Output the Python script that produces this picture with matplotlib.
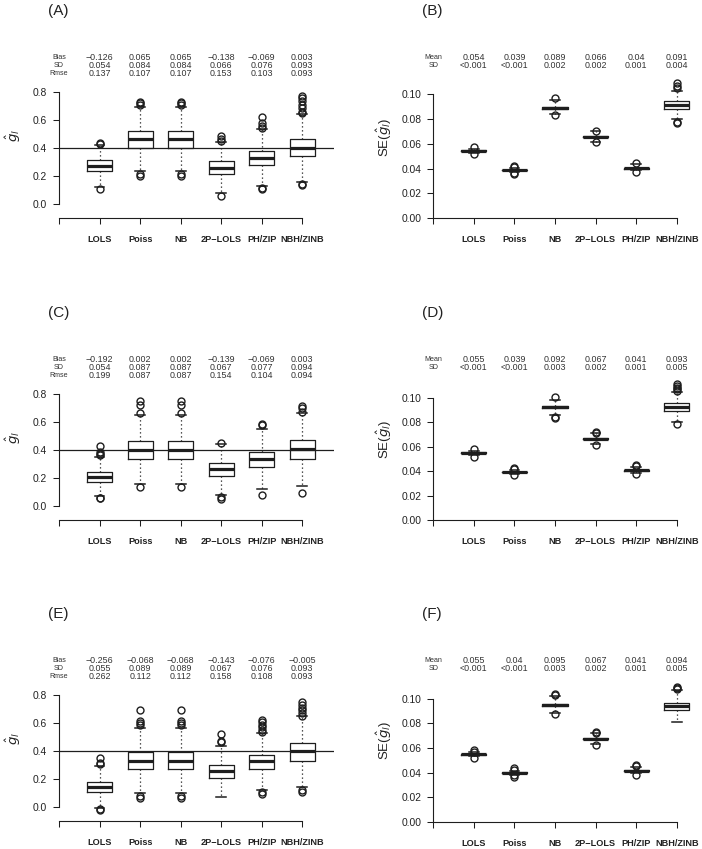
import matplotlib
matplotlib.use("Agg")
import matplotlib.pyplot as plt
from matplotlib.transforms import blended_transform_factory

plt.rcParams["font.family"] = ["Liberation Sans", "DejaVu Sans"]
plt.rcParams["mathtext.fontset"] = "dejavusans"

W, H = 702, 849
LC = "#1e1e1e"

methods = ["LOLS", "Poiss", "NB", "2P\u2212LOLS", "PH/ZIP", "NBH/ZINB"]
M = "\u2212"

# ---- panel A : estimates, scenario 1
lo_A = [0.124, 0.238, 0.238, 0.081, 0.126, 0.157]
q1_A = [0.236, 0.402, 0.402, 0.212, 0.276, 0.340]
med_A = [0.271, 0.464, 0.464, 0.260, 0.329, 0.402]
q3_A = [0.312, 0.521, 0.521, 0.305, 0.379, 0.462]
hi_A = [0.419, 0.695, 0.695, 0.443, 0.533, 0.643]
out_A = [[0.433, 0.426, 0.107],
         [0.731, 0.719, 0.707, 0.217, 0.197],
         [0.731, 0.719, 0.707, 0.217, 0.197],
         [0.488, 0.467, 0.452, 0.060],
         [0.624, 0.581, 0.560, 0.540, 0.112, 0.107],
         [0.771, 0.755, 0.733, 0.707, 0.683, 0.657, 0.648, 0.143, 0.133]]
bias_A = [M + "0.126", "0.065", "0.065", M + "0.138", M + "0.069", "0.003"]
sd_A = ["0.054", "0.084", "0.084", "0.066", "0.076", "0.093"]
rmse_A = ["0.137", "0.107", "0.107", "0.153", "0.103", "0.093"]

# ---- panel C
lo_C = [0.069, 0.158, 0.158, 0.081, 0.119, 0.146]
q1_C = [0.172, 0.339, 0.339, 0.215, 0.277, 0.339]
med_C = [0.210, 0.401, 0.401, 0.265, 0.334, 0.406]
q3_C = [0.246, 0.463, 0.463, 0.308, 0.387, 0.468]
hi_C = [0.348, 0.649, 0.649, 0.446, 0.549, 0.663]
out_C = [[0.430, 0.387, 0.375, 0.365, 0.060, 0.055],
         [0.752, 0.723, 0.663, 0.134],
         [0.752, 0.723, 0.663, 0.134],
         [0.453, 0.064, 0.050],
         [0.585, 0.578, 0.081],
         [0.711, 0.697, 0.668, 0.093]]
bias_C = [M + "0.192", "0.002", "0.002", M + "0.139", M + "0.069", "0.003"]
sd_C = ["0.054", "0.087", "0.087", "0.067", "0.077", "0.094"]
rmse_C = ["0.199", "0.087", "0.087", "0.154", "0.104", "0.094"]

# ---- panel E
lo_E = [-0.005, 0.098, 0.098, 0.072, 0.124, 0.141]
q1_E = [0.105, 0.274, 0.274, 0.210, 0.272, 0.332]
med_E = [0.146, 0.329, 0.329, 0.255, 0.327, 0.399]
q3_E = [0.181, 0.391, 0.391, 0.303, 0.375, 0.456]
hi_E = [0.291, 0.566, 0.566, 0.439, 0.527, 0.647]
out_E = [[0.353, 0.315, 0.305, -0.014, -0.020],
         [0.690, 0.613, 0.599, 0.587, 0.081, 0.066],
         [0.690, 0.613, 0.599, 0.587, 0.081, 0.066],
         [0.523, 0.475, 0.461],
         [0.623, 0.609, 0.589, 0.570, 0.551, 0.537, 0.105, 0.091],
         [0.747, 0.728, 0.709, 0.690, 0.671, 0.652, 0.122, 0.110]]
bias_E = [M + "0.256", M + "0.068", M + "0.068", M + "0.143", M + "0.076", M + "0.005"]
sd_E = ["0.055", "0.089", "0.089", "0.067", "0.076", "0.093"]
rmse_E = ["0.262", "0.112", "0.112", "0.158", "0.108", "0.093"]

# ---- panel B : standard errors
lo_B = [0.0528, 0.0370, 0.0836, 0.0617, 0.0386, 0.0796]
q1_B = [0.0540, 0.0385, 0.0882, 0.0651, 0.0399, 0.0882]
med_B = [0.0544, 0.0389, 0.0890, 0.0657, 0.0403, 0.0912]
q3_B = [0.0548, 0.0392, 0.0898, 0.0663, 0.0407, 0.0941]
hi_B = [0.0560, 0.0405, 0.0952, 0.0700, 0.0434, 0.1027]
out_B = [[0.0574, 0.0518],
         [0.0418, 0.0410, 0.0365, 0.0360],
         [0.0968, 0.0828],
         [0.0705, 0.0611],
         [0.0442, 0.0370],
         [0.1086, 0.1064, 0.1046, 0.0777, 0.0764]]
mean_B = ["0.054", "0.039", "0.089", "0.066", "0.04", "0.091"]
sdse_B = ["<0.001", "<0.001", "0.002", "0.002", "0.001", "0.004"]

# ---- panel D
lo_D = [0.0530, 0.0375, 0.0856, 0.0624, 0.0387, 0.0798]
q1_D = [0.0544, 0.0389, 0.0914, 0.0660, 0.0402, 0.0891]
med_D = [0.0548, 0.0392, 0.0924, 0.0665, 0.0406, 0.0921]
q3_D = [0.0552, 0.0396, 0.0934, 0.0670, 0.0410, 0.0954]
hi_D = [0.0562, 0.0410, 0.0984, 0.0708, 0.0436, 0.1044]
out_D = [[0.0578, 0.0515],
         [0.0425, 0.0418, 0.0368],
         [0.1005, 0.0845, 0.0838],
         [0.0722, 0.0715, 0.0610],
         [0.0452, 0.0443, 0.0373],
         [0.1109, 0.1095, 0.1082, 0.1068, 0.1054, 0.0787]]
mean_D = ["0.055", "0.039", "0.092", "0.067", "0.041", "0.093"]
sdse_D = ["<0.001", "<0.001", "0.003", "0.002", "0.001", "0.005"]

# ---- panel F
lo_F = [0.0532, 0.0385, 0.0886, 0.0635, 0.0397, 0.0808]
q1_F = [0.0547, 0.0396, 0.0941, 0.0671, 0.0410, 0.0905]
med_F = [0.0551, 0.0400, 0.0951, 0.0676, 0.0414, 0.0938]
q3_F = [0.0555, 0.0403, 0.0961, 0.0681, 0.0418, 0.0968]
hi_F = [0.0565, 0.0414, 0.1022, 0.0719, 0.0446, 0.1068]
out_F = [[0.0581, 0.0570, 0.0519],
         [0.0435, 0.0420, 0.0378, 0.0368],
         [0.1040, 0.1030, 0.0873],
         [0.0730, 0.0723, 0.0627],
         [0.0460, 0.0452, 0.0378],
         [0.1095, 0.1086, 0.1078]]
mean_F = ["0.055", "0.04", "0.095", "0.067", "0.041", "0.094"]
sdse_F = ["<0.001", "<0.001", "0.003", "0.002", "0.001", "0.005"]


def fx(px):
    return px / W


def fy(py):
    return 1 - py / H


def make_axes(fig, x0, unit, xmax, yzero, scale, ylim):
    bottom = yzero - ylim[0] * scale  # pixel row of ylim[0]
    width = xmax * unit
    height = (ylim[1] - ylim[0]) * scale
    ax = fig.add_axes([fx(x0), fy(bottom), width / W, height / H])
    ax.set_xlim(0, xmax)
    ax.set_ylim(*ylim)
    return ax


def draw_box(ax, lo, q1, med, q3, hi, out):
    stats = []
    for i in range(len(methods)):
        stats.append(dict(whislo=lo[i], q1=q1[i], med=med[i], q3=q3[i],
                          whishi=hi[i], fliers=out[i]))
    ax.bxp(stats, positions=range(1, 7), widths=0.62, capwidths=0.24,
           manage_ticks=False,
           boxprops=dict(color=LC, lw=0.9),
           medianprops=dict(color=LC, lw=2.3, solid_capstyle="butt"),
           whiskerprops=dict(color=LC, lw=0.9, linestyle=(0, (1, 2.2))),
           capprops=dict(color=LC, lw=1.1),
           flierprops=dict(marker="o", markerfacecolor="none",
                           markeredgecolor=LC, markersize=5,
                           markeredgewidth=1.0))


def style_axes(ax, yticks, ytl):
    for s in ["top", "right"]:
        ax.spines[s].set_visible(False)
    ax.spines["left"].set_bounds(yticks[0], yticks[-1])
    ax.spines["bottom"].set_bounds(0, 6)
    for s in ["left", "bottom"]:
        ax.spines[s].set_linewidth(0.8)
        ax.spines[s].set_color(LC)
    ax.set_yticks(yticks)
    ax.set_yticklabels(ytl, fontsize=7.4, color="#222222")
    ax.set_xticks(range(0, 7))
    ax.set_xticklabels([""] + methods, fontsize=6.6, fontweight="bold",
                       color="#222222")
    ax.tick_params(axis="y", length=4.3, width=0.75, pad=4.3, color=LC)
    ax.tick_params(axis="x", length=4.3, width=0.75, pad=8, color=LC)
    ax.patch.set_alpha(0)


def stat_rows(fig, ax, labels, rows, ys):
    tr = blended_transform_factory(ax.transData, fig.transFigure)
    for lab, vals, y in zip(labels, rows, ys):
        ax.text(0, fy(y), lab, transform=tr, ha="center", va="center",
                fontsize=5.1, color="#333333")
        for i, v in enumerate(vals):
            ax.text(i + 1, fy(y), v, transform=tr, ha="center", va="center",
                    fontsize=6.4, color="#333333")


fig = plt.figure(figsize=(W / 100, H / 100), dpi=100)

left_panels = [
    ("(A)", 0, lo_A, q1_A, med_A, q3_A, hi_A, out_A, bias_A, sd_A, rmse_A),
    ("(C)", 302, lo_C, q1_C, med_C, q3_C, hi_C, out_C, bias_C, sd_C, rmse_C),
    ("(E)", 603, lo_E, q1_E, med_E, q3_E, hi_E, out_E, bias_E, sd_E, rmse_E),
]
for letter, off, lo, q1, med, q3, hi, out, bias, sd, rmse in left_panels:
    ax = make_axes(fig, 59, 40.55, 6.77, 204 + off, 140, (-0.1, 0.85))
    ax.axhline(0.4, color=LC, lw=0.9)
    draw_box(ax, lo, q1, med, q3, hi, out)
    style_axes(ax, [0.0, 0.2, 0.4, 0.6, 0.8],
               ["0.0", "0.2", "0.4", "0.6", "0.8"])
    ax.set_ylabel(r"$\hat{g}_l$", fontsize=9.5, va="center", color="#222222")
    ax.yaxis.set_label_coords(fx(13), fy(135 + off), transform=fig.transFigure)
    stat_rows(fig, ax, ["Bias", "SD", "Rmse"], [bias, sd, rmse],
              [57.7 + off, 65.7 + off, 73.7 + off])
    fig.text(fx(48), fy(11 + off), letter, fontsize=11, ha="left",
             va="center", color="#222222")

right_panels = [
    ("(B)", 0, 218.3, 1243, lo_B, q1_B, med_B, q3_B, hi_B, out_B, mean_B, sdse_B),
    ("(D)", 302, 520, 1223, lo_D, q1_D, med_D, q3_D, hi_D, out_D, mean_D, sdse_D),
    ("(F)", 603, 822, 1233, lo_F, q1_F, med_F, q3_F, hi_F, out_F, mean_F, sdse_F),
]
for letter, off, yz, sc, lo, q1, med, q3, hi, out, mean, sdse in right_panels:
    ax = make_axes(fig, 433.3, 40.57, 6.6, yz, sc, (0, 0.115))
    draw_box(ax, lo, q1, med, q3, hi, out)
    style_axes(ax, [0.0, 0.02, 0.04, 0.06, 0.08, 0.10],
               ["0.00", "0.02", "0.04", "0.06", "0.08", "0.10"])
    ax.set_ylabel(r"SE($\hat{g}_l$)", fontsize=9.5, va="center",
                  color="#222222")
    ax.yaxis.set_label_coords(fx(384), fy(137 + off), transform=fig.transFigure)
    stat_rows(fig, ax, ["Mean", "SD"], [mean, sdse],
              [57.7 + off, 65.7 + off])
    fig.text(fx(422), fy(11 + off), letter, fontsize=11, ha="left",
             va="center", color="#222222")

fig.savefig("out.png", dpi=100, facecolor="white")
